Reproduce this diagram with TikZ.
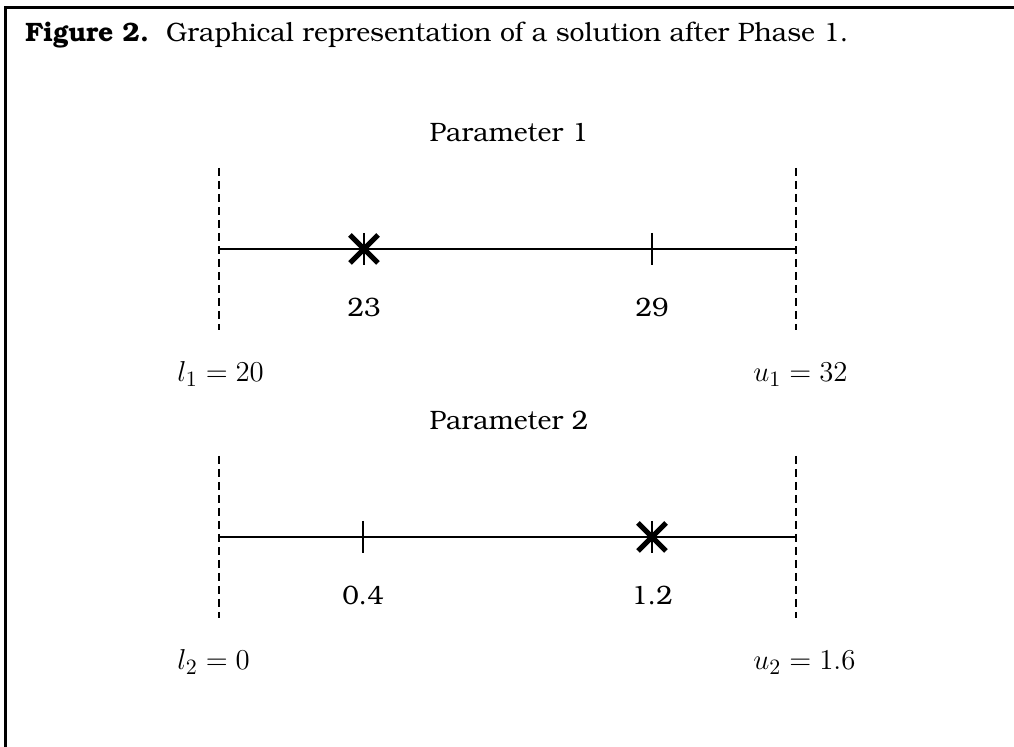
\documentclass[tikz,border=0pt]{standalone}
\usepackage[T1]{fontenc}
\usepackage{bookman}
\usepackage{amsmath}

\begin{document}
\begin{tikzpicture}[x=0.5pt, y=-0.5pt, font=\fontsize{13.3}{16}\selectfont,
    axis/.style={line width=1pt},
    bound/.style={line width=1pt, dash pattern=on 4pt off 2.5pt},
    tick/.style={line width=1pt},
    cross/.style={line width=2.6pt},
    pt/.style={inner sep=0pt, minimum size=0pt},
    lbl/.style={anchor=base, inner sep=0pt},
    lim/.style={anchor=base west, inner sep=0pt, font=\fontsize{15}{18}\selectfont}]
    \useasboundingbox (0,0) rectangle (1014,747);
    \draw[line width=1.5pt] (5,747) -- (5,8) -- (1014,8);
    \node[anchor=base west, inner sep=0pt] (title) at (25,42) {\textbf{Figure 2.}\ \ Graphical representation of a solution after Phase 1.};

    % Parameter 1
    \node[lbl] (par1) at (509,142) {Parameter 1};
    \coordinate (lo1) at (219,249); \coordinate (up1) at (796,249);
    \node[pt] (sol1) at (364,249) {}; \node[pt] (old1) at (652,249) {};
    \draw[axis] (lo1) -- (up1);
    \draw[bound] (lo1) ++(0,-81) -- ++(0,162) (up1) ++(0,-81) -- ++(0,162);
    \draw[tick] (old1) ++(0,-16) -- ++(0,32) (sol1) ++(0,-16) -- ++(0,32);
    \draw[cross] (sol1) ++(-14,-14) -- ++(28,28) (sol1) ++(-14,14) -- ++(28,-28);
    \node[lbl] (v11) at (364,317) {23}; \node[lbl] (v12) at (652,317) {29};
    \node[lim] (l1) at (177,382) {$l_1\;{=}\;20$}; \node[lim] (u1) at (753,382) {$u_1\;{=}\;32$};

    % Parameter 2
    \node[lbl] (par2) at (509,430) {Parameter 2};
    \coordinate (lo2) at (219,537); \coordinate (up2) at (796,537);
    \node[pt] (old2) at (363,537) {}; \node[pt] (sol2) at (652,537) {};
    \draw[axis] (lo2) -- (up2);
    \draw[bound] (lo2) ++(0,-81) -- ++(0,162) (up2) ++(0,-81) -- ++(0,162);
    \draw[tick] (old2) ++(0,-16) -- ++(0,32) (sol2) ++(0,-16) -- ++(0,32);
    \draw[cross] (sol2) ++(-14,-14) -- ++(28,28) (sol2) ++(-14,14) -- ++(28,-28);
    \node[lbl] (v21) at (363,605) {0.4}; \node[lbl] (v22) at (652,605) {1.2};
    \node[lim] (l2) at (177,670) {$l_2\;{=}\;0$}; \node[lim] (u2) at (753,670) {$u_2\;{=}\;1.6$};
\end{tikzpicture}
\end{document}
